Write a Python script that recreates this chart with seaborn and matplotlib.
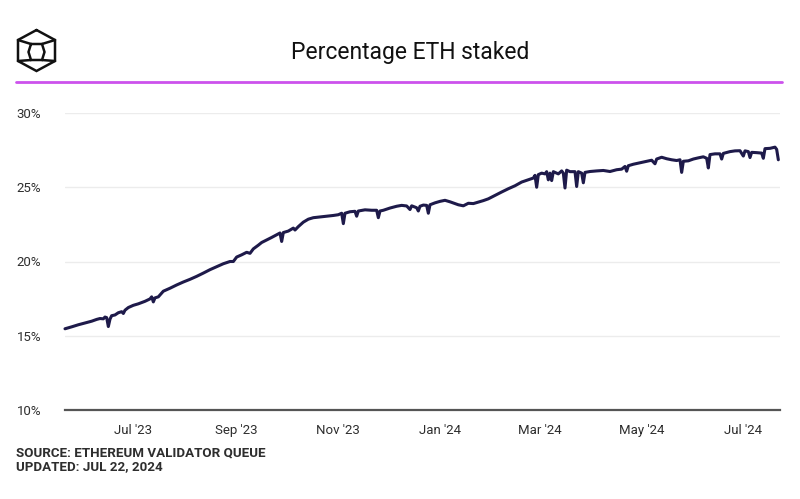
"""
Percentage ETH staked - line chart recreated with seaborn
"""

import pandas as pd
import seaborn as sns
import matplotlib.pyplot as plt
import matplotlib.dates as mdates
from matplotlib.lines import Line2D
from matplotlib.ticker import FuncFormatter

# values (share of ETH supply staked, %)
dates = [
    "2023-05-21", "2023-05-25", "2023-05-29", "2023-06-02", "2023-06-06", "2023-06-09",
    "2023-06-11", "2023-06-13", "2023-06-14", "2023-06-15", "2023-06-16", "2023-06-17",
    "2023-06-18", "2023-06-20", "2023-06-22", "2023-06-24", "2023-06-25", "2023-06-26",
    "2023-06-28", "2023-07-01", "2023-07-04", "2023-07-08", "2023-07-11", "2023-07-12",
    "2023-07-13", "2023-07-14", "2023-07-16", "2023-07-19", "2023-07-23", "2023-07-27",
    "2023-07-31", "2023-08-04", "2023-08-08", "2023-08-12", "2023-08-16", "2023-08-20",
    "2023-08-24", "2023-08-28", "2023-08-30", "2023-09-01", "2023-09-04", "2023-09-07",
    "2023-09-09", "2023-09-11", "2023-09-14", "2023-09-16", "2023-09-19", "2023-09-22",
    "2023-09-25", "2023-09-27", "2023-09-28", "2023-09-29", "2023-10-02", "2023-10-05",
    "2023-10-06", "2023-10-08", "2023-10-11", "2023-10-14", "2023-10-17", "2023-10-21",
    "2023-10-25", "2023-10-29", "2023-11-01", "2023-11-03", "2023-11-04", "2023-11-05",
    "2023-11-08", "2023-11-11", "2023-11-12", "2023-11-13", "2023-11-17", "2023-11-21",
    "2023-11-24", "2023-11-25", "2023-11-26", "2023-11-28", "2023-12-02", "2023-12-06",
    "2023-12-09", "2023-12-12", "2023-12-14", "2023-12-15", "2023-12-18", "2023-12-19",
    "2023-12-20", "2023-12-22", "2023-12-24", "2023-12-25", "2023-12-26", "2023-12-29",
    "2024-01-01", "2024-01-04", "2024-01-07", "2024-01-10", "2024-01-12", "2024-01-15",
    "2024-01-18", "2024-01-21", "2024-01-24", "2024-01-27", "2024-01-30", "2024-02-03",
    "2024-02-07", "2024-02-11", "2024-02-15", "2024-02-19", "2024-02-23", "2024-02-26",
    "2024-02-27", "2024-02-28", "2024-02-29", "2024-03-02", "2024-03-04", "2024-03-05",
    "2024-03-06", "2024-03-07", "2024-03-08", "2024-03-09", "2024-03-12", "2024-03-14",
    "2024-03-15", "2024-03-16", "2024-03-17", "2024-03-19", "2024-03-22", "2024-03-23",
    "2024-03-24", "2024-03-26", "2024-03-27", "2024-03-28", "2024-03-31", "2024-04-04",
    "2024-04-08", "2024-04-12", "2024-04-16", "2024-04-19", "2024-04-21", "2024-04-22",
    "2024-04-23", "2024-04-26", "2024-04-30", "2024-05-04", "2024-05-07", "2024-05-09",
    "2024-05-10", "2024-05-13", "2024-05-16", "2024-05-19", "2024-05-22", "2024-05-24",
    "2024-05-25", "2024-05-26", "2024-05-29", "2024-06-01", "2024-06-04", "2024-06-07",
    "2024-06-09", "2024-06-10", "2024-06-11", "2024-06-14", "2024-06-17", "2024-06-18",
    "2024-06-19", "2024-06-23", "2024-06-26", "2024-06-29", "2024-07-01", "2024-07-02",
    "2024-07-04", "2024-07-05", "2024-07-06", "2024-07-09", "2024-07-12", "2024-07-13",
    "2024-07-14", "2024-07-17", "2024-07-20", "2024-07-21", "2024-07-22",
]
pct_staked = [
    15.47, 15.60, 15.74, 15.86, 15.98, 16.10,
    16.16, 16.14, 16.26, 16.22, 15.62, 16.12,
    16.35, 16.40, 16.55, 16.62, 16.50, 16.72,
    16.90, 17.05, 17.15, 17.32, 17.48, 17.62,
    17.28, 17.55, 17.62, 18.00, 18.20, 18.42,
    18.62, 18.80, 19.00, 19.22, 19.45, 19.65,
    19.85, 20.00, 20.00, 20.30, 20.45, 20.62,
    20.55, 20.85, 21.10, 21.28, 21.45, 21.62,
    21.80, 21.92, 21.35, 21.95, 22.05, 22.25,
    22.12, 22.35, 22.65, 22.85, 22.95, 23.00,
    23.05, 23.10, 23.15, 23.25, 22.55, 23.25,
    23.35, 23.38, 23.05, 23.40, 23.48, 23.45,
    23.45, 22.95, 23.40, 23.45, 23.60, 23.72,
    23.78, 23.74, 23.50, 23.75, 23.62, 23.40,
    23.72, 23.80, 23.78, 23.25, 23.82, 23.95,
    24.05, 24.12, 24.02, 23.90, 23.82, 23.75,
    23.92, 23.90, 24.00, 24.10, 24.22, 24.45,
    24.68, 24.90, 25.10, 25.35, 25.50, 25.62,
    25.80, 25.00, 25.85, 25.95, 25.90, 26.05,
    25.50, 25.95, 25.45, 26.05, 25.90, 26.10,
    25.95, 24.95, 26.15, 26.05, 26.05, 25.05,
    26.05, 25.95, 25.30, 26.00, 26.06, 26.10,
    26.13, 26.06, 26.18, 26.22, 26.40, 26.08,
    26.45, 26.55, 26.65, 26.75, 26.82, 26.58,
    26.90, 27.02, 26.92, 26.85, 26.80, 26.85,
    26.00, 26.75, 26.78, 26.90, 26.98, 27.05,
    26.95, 26.30, 27.20, 27.25, 27.25, 26.90,
    27.28, 27.40, 27.45, 27.46, 27.10, 27.45,
    27.40, 27.00, 27.35, 27.33, 27.30, 26.95,
    27.60, 27.62, 27.70, 27.55, 26.85,
]
y_ticks = [10, 15, 20, 25, 30]

TITLE = "Percentage ETH staked"
SOURCE = "SOURCE: ETHEREUM VALIDATOR QUEUE"
UPDATED = "UPDATED: JUL 22, 2024"

LINE_COLOR = "#1e1a4a"
TEXT_COLOR = "#2e2e2e"
ACCENT = "#cc52ec"

W, H = 800, 499


def fx(px):
    return px / W


def fy(py):
    return 1 - py / H


df = pd.DataFrame({"date": pd.to_datetime(dates), "pct": pct_staked})

sns.set_theme(style="white")
plt.rcParams["font.family"] = ["Roboto", "DejaVu Sans"]

fig = plt.figure(figsize=(8, 4.99), dpi=100)
ax = fig.add_axes([fx(65), fy(410), fx(780) - fx(65), fy(113) - fy(410)])

sns.lineplot(data=df, x="date", y="pct", ax=ax, color=LINE_COLOR,
             linewidth=2.2, clip_on=False)

ax.set_xlim(pd.Timestamp("2023-05-21"), pd.Timestamp("2024-07-23"))
ax.set_ylim(10, 30)
ax.set_yticks(y_ticks)
ax.yaxis.set_major_formatter(FuncFormatter(lambda v, _: f"{v:.0f}%"))
ax.xaxis.set_major_locator(mdates.MonthLocator(bymonth=[1, 3, 5, 7, 9, 11]))
ax.xaxis.set_major_formatter(mdates.DateFormatter("%b '%y"))

ax.set_xlabel("")
ax.set_ylabel("")
ax.grid(axis="y", color="#ececec", linewidth=1)
ax.grid(axis="x", visible=False)
for side in ["top", "right", "left"]:
    ax.spines[side].set_visible(False)
ax.spines["bottom"].set_color("#555555")
ax.spines["bottom"].set_linewidth(1.6)
ax.tick_params(axis="y", length=0, pad=17, labelsize=9.5, labelcolor=TEXT_COLOR)
ax.tick_params(axis="x", length=0, pad=10, labelsize=9.5, labelcolor=TEXT_COLOR)

# header
fig.text(fx(410), fy(52), TITLE, ha="center", va="center", fontsize=16.5, color="#111111")
fig.add_artist(Line2D([fx(16), fx(782)], [fy(82), fy(82)], color=ACCENT, linewidth=2))

# logo: hexagon with a cube inside
outer = [(36.5, 30), (55, 40), (55, 61), (36.5, 71), (18, 61), (18, 40), (36.5, 30)]
inner = [(31, 44), (42, 44), (44.5, 52), (42, 60), (31, 60), (28.5, 52), (31, 44)]
links = [[(18, 40), (31, 44)], [(55, 40), (42, 44)], [(18, 61), (31, 60)], [(55, 61), (42, 60)]]
for shape in [outer, inner] + links:
    xs = [fx(p[0]) for p in shape]
    ys = [fy(p[1]) for p in shape]
    fig.add_artist(Line2D(xs, ys, color="#111111", linewidth=1.8, solid_joinstyle="miter"))

# footer
fig.text(fx(16), fy(453), SOURCE, ha="left", va="center", fontsize=9.6,
         fontweight="bold", color=TEXT_COLOR)
fig.text(fx(16), fy(467), UPDATED, ha="left", va="center", fontsize=9.6,
         fontweight="bold", color=TEXT_COLOR)

plt.savefig("out.png", dpi=100)
